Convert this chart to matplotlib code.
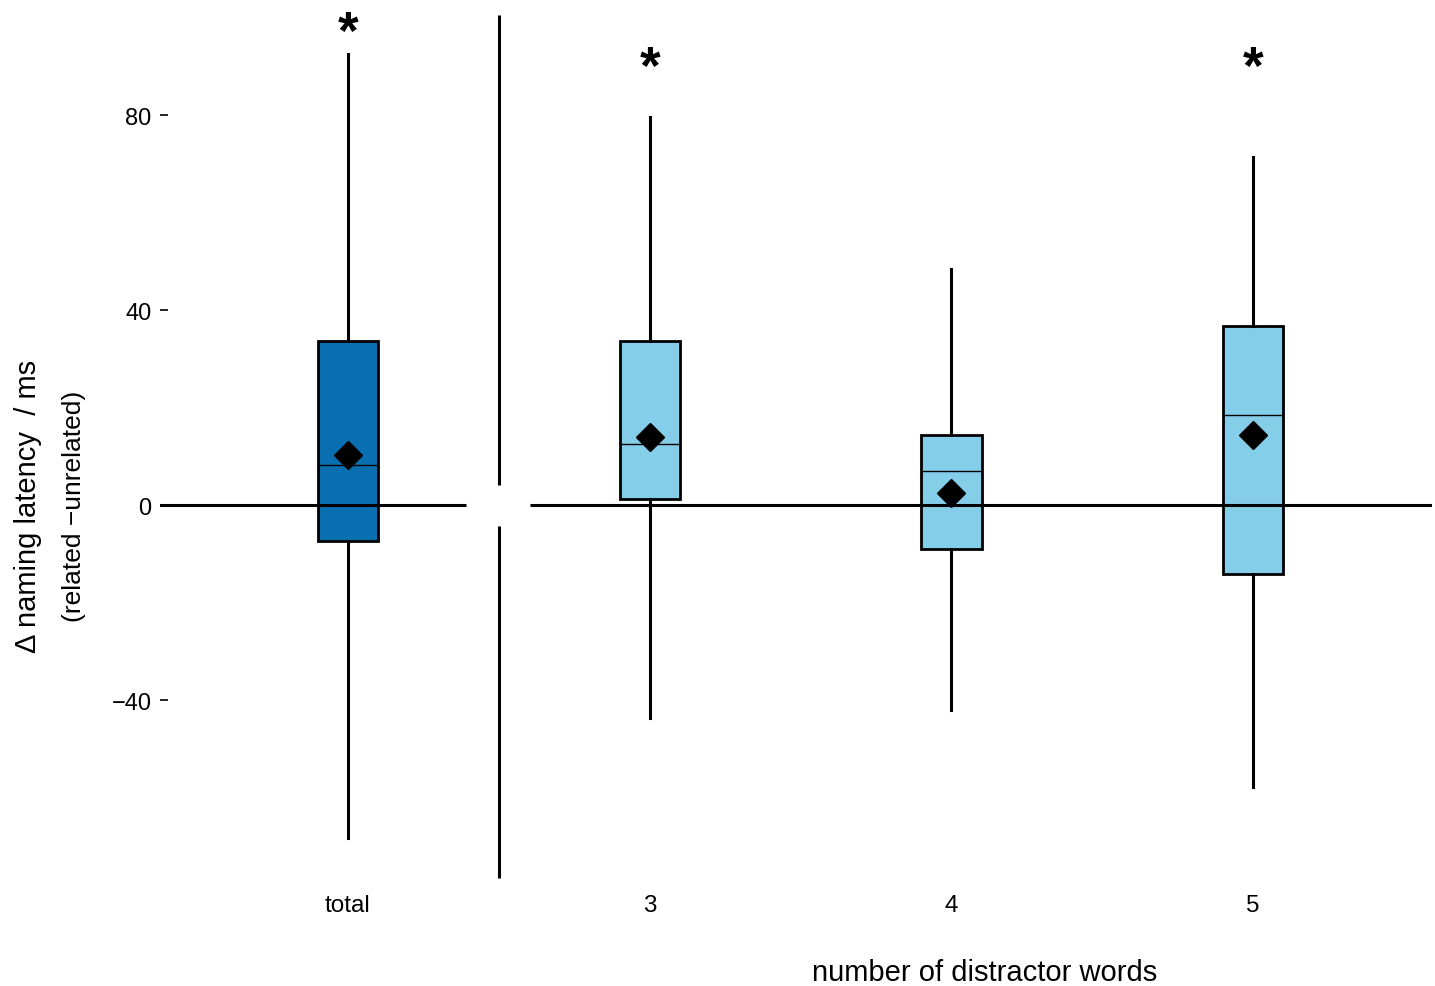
import numpy as np
import matplotlib
matplotlib.use("Agg")
import matplotlib.pyplot as plt

plt.rcParams['font.family'] = ['Liberation Sans', 'DejaVu Sans']

# values (ms)
groups = ['total', '3', '4', '5']
q1 = [-7.4, 1.2, -9.0, -14.2]
q3 = [33.6, 33.6, 14.4, 36.7]
medians = [8.2, 12.5, 7.0, 18.5]
means = [10.3, 13.9, 2.5, 14.4]
whis_lo = [-68.3, -43.7, -42.1, -57.8]
whis_hi = [92.5, 79.6, 48.4, 71.4]
significant = [True, True, False, True]
star_y = [96.6, 89.4, 89.4, 89.4]
colors = ['#0a6fb0', '#85ceea', '#85ceea', '#85ceea']

fig = plt.figure(figsize=(14.35, 9.87), dpi=100)
W, H = 1435, 987
ax = fig.add_axes([160 / W, (H - 880) / H, (1432 - 160) / W, 880 / H])

pos = np.arange(len(groups))
stats = []
for i, g in enumerate(groups):
    stats.append(dict(label=g, q1=q1[i], q3=q3[i], med=medians[i], mean=means[i],
                      whislo=whis_lo[i], whishi=whis_hi[i], fliers=[]))

bp = ax.bxp(stats, positions=pos, widths=0.2, patch_artist=True, showmeans=True,
            showcaps=False, showfliers=False,
            boxprops=dict(edgecolor='black', linewidth=2),
            whiskerprops=dict(color='black', linewidth=2.2),
            medianprops=dict(color='black', linewidth=1),
            meanprops=dict(marker='D', markerfacecolor='black', markeredgecolor='black',
                           markersize=14))
for patch, c in zip(bp['boxes'], colors):
    patch.set_facecolor(c)
for m in bp['means']:
    m.set_zorder(4)

# zero line, broken at the divider, drawn over the boxes
ax.hlines(0, -0.63, 0.39, color='black', linewidth=2.2, zorder=3)
ax.hlines(0, 0.605, 3.6, color='black', linewidth=2.2, zorder=3)

# divider between total and per-number panels
ax.vlines(0.5, 4.1, 100.5, color='black', linewidth=2.2)
ax.vlines(0.5, -76.5, -4.3, color='black', linewidth=2.2)

for i, s in enumerate(significant):
    if s:
        ax.text(pos[i], star_y[i], '*', ha='center', va='center', fontsize=38,
                fontweight='bold')

ax.set_xlim(-0.623, 3.593)
ax.set_ylim(-76.7, 103.8)
ax.set_yticks([-40, 0, 40, 80])
ax.set_yticklabels(['\u221240', '0', '40', '80'])
ax.set_xticks(pos)
ax.set_xticklabels(groups)
ax.tick_params(axis='y', direction='in', length=6, width=1.2, pad=6, labelsize=17)
ax.tick_params(axis='x', length=0, pad=11, labelsize=17.5)
for sp in ax.spines.values():
    sp.set_visible(False)

fig.text(28 / W, 1 - 506 / H, '\u0394 naming latency  / ms', rotation=90,
         ha='center', va='center', fontsize=21)
fig.text(74 / W, 1 - 506 / H, '(related \u2212unrelated)', rotation=90,
         ha='center', va='center', fontsize=19)
fig.text(985 / W, 1 - 973 / H, 'number of distractor words', ha='center',
         va='center', fontsize=21)

fig.savefig('out.png', dpi=100)
